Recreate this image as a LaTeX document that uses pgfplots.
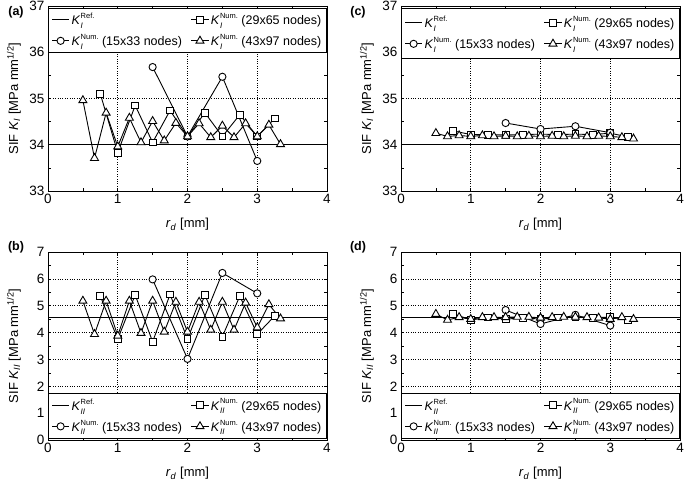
\documentclass[border=0pt]{standalone}
\usepackage{fontspec}
\setmainfont{Liberation Sans}
\usepackage{pgfplots}
\pgfplotsset{compat=1.18}

\newcommand{\Ksym}[2]{\textit{K}\kern0.3pt\makebox[0pt][l]{\raisebox{-0.55ex}{\fontsize{8}{8}\selectfont\textit{#1}}}\raisebox{0.95ex}{\fontsize{7.5}{8}\selectfont #2}}

\pgfplotsset{
 sifpanel/.style={
   scale only axis, width=279pt,
   xmin=0, xmax=4, xtick={0,1,2,3,4},
   minor x tick num=1, minor y tick num=1,
   tick align=inside, xtick pos=both, ytick pos=both,
   major tick length=3pt, minor tick length=3pt,
   grid=major, major grid style={dotted, black, line width=0.6pt},
   axis line style={line width=0.9pt},
   every tick/.style={black, line width=0.6pt},
   /pgf/number format/assume math mode=true,
   ticklabel style={font=\fontsize{13.5}{13.5}\selectfont},
   xlabel={\textit{r}\textsubscript{\textit{d}} [mm]},
   legend columns=2,
   legend cell align=left,
   legend style={font=\fontsize{12.5}{12.5}\selectfont, draw=black, line width=0.6pt, fill=white,
     /tikz/every even column/.append style={column sep=7pt},
     /tikz/row sep=4pt, inner xsep=3pt, inner ysep=3pt},
   legend image post style={line width=0.9pt},
 },
 topp/.style={height=185pt, ymin=33, ymax=37, ytick={33,34,35,36,37},
   every axis x label/.style={at={(axis description cs:0.5,-0.18)}, anchor=center, font=\fontsize{13}{13}\selectfont},
   every axis y label/.style={at={(axis description cs:-0.122,0.5)}, anchor=center, rotate=90, font=\fontsize{13}{13}\selectfont},
   legend style={at={(axis description cs:0.5,0.99)}, anchor=north}},
 botp/.style={height=188pt, ymin=0, ymax=7, ytick={0,1,2,3,4,5,6,7},
   every axis x label/.style={at={(axis description cs:0.5,-0.178)}, anchor=center, font=\fontsize{13}{13}\selectfont},
   every axis y label/.style={at={(axis description cs:-0.122,0.5)}, anchor=center, rotate=90, font=\fontsize{13}{13}\selectfont},
   legend style={at={(axis description cs:0.5,0.01)}, anchor=south}},
 refser/.style={black, line width=1pt, no marks},
 sq/.style={black, line width=0.9pt, mark=square*, mark size=3.4pt, mark options={solid, fill=white, line width=0.9pt}},
 ci/.style={black, line width=0.9pt, mark=*, mark size=3.6pt, mark options={solid, fill=white, line width=0.9pt}},
 tr/.style={black, line width=0.9pt, mark=triangle*, mark size=4.6pt, mark options={solid, fill=white, line width=0.9pt}},
}

\begin{document}
\begin{tikzpicture}
\useasboundingbox (0,0) rectangle (685pt,485pt);

% (a)
\begin{axis}[sifpanel, topp, at={(48pt,294pt)}, anchor=south west,
  ylabel={SIF \textit{K}\textsubscript{\textit{I}} [MPa mm\textsuperscript{1/2}]}]
\addplot[refser] coordinates {(0,34) (4,34)};
\addlegendentry{\Ksym{I}{Ref.}}
\addplot[sq] coordinates {(0.75,35.10) (1.00,33.83) (1.25,34.85) (1.50,34.05) (1.75,34.74) (2.00,34.18) (2.25,34.69) (2.50,34.18) (2.75,34.65) (3.00,34.18) (3.25,34.57)};
\addlegendentry{\Ksym{I}{Num.}~(29x65 nodes)}
\addplot[ci] coordinates {(1.5,35.68) (2.0,34.18) (2.5,35.47) (3.0,33.65)};
\addlegendentry{\Ksym{I}{Num.}~(15x33 nodes)}
\addplot[tr] coordinates {(0.5,34.96) (0.6667,33.71) (0.8333,34.69) (1.0,33.96) (1.1667,34.58) (1.3333,34.05) (1.5,34.51) (1.6667,34.09) (1.8333,34.47) (2.0,34.18) (2.1667,34.46) (2.3333,34.16) (2.5,34.41) (2.6667,34.16) (2.8333,34.46) (3.0,34.18) (3.1667,34.43) (3.3333,34.01)};
\addlegendentry{\Ksym{I}{Num.}~(43x97 nodes)}
\end{axis}
\node[font=\bfseries\fontsize{12.5}{12.5}\selectfont] at (16pt,473pt) {(a)};

% (c)
\begin{axis}[sifpanel, topp, at={(401pt,294pt)}, anchor=south west,
  ylabel={SIF \textit{K}\textsubscript{\textit{I}} [MPa mm\textsuperscript{1/2}]},
  legend style={inner ysep=6pt}]
\addplot[refser] coordinates {(0,34) (4,34)};
\addlegendentry{\Ksym{I}{Ref.}}
\addplot[sq] coordinates {(0.75,34.30) (1.00,34.22) (1.25,34.22) (1.50,34.21) (1.75,34.22) (2.00,34.23) (2.25,34.22) (2.50,34.23) (2.75,34.22) (3.00,34.25) (3.25,34.17)};
\addlegendentry{\Ksym{I}{Num.}~(29x65 nodes)}
\addplot[ci] coordinates {(1.5,34.47) (2.0,34.34) (2.5,34.40) (3.0,34.26)};
\addlegendentry{\Ksym{I}{Num.}~(15x33 nodes)}
\addplot[tr] coordinates {(0.5,34.25) (0.6667,34.18) (0.8333,34.20) (1.0,34.18) (1.1667,34.20) (1.3333,34.18) (1.5,34.19) (1.6667,34.18) (1.8333,34.19) (2.0,34.18) (2.1667,34.19) (2.3333,34.18) (2.5,34.19) (2.6667,34.18) (2.8333,34.19) (3.0,34.18) (3.1667,34.16) (3.3333,34.13)};
\addlegendentry{\Ksym{I}{Num.}~(43x97 nodes)}
\end{axis}
\node[font=\bfseries\fontsize{12.5}{12.5}\selectfont] at (358pt,473pt) {(c)};

% (b)
\begin{axis}[sifpanel, botp, at={(48pt,45pt)}, anchor=south west,
  ylabel={SIF \textit{K}\textsubscript{\textit{II}} [MPa mm\textsuperscript{1/2}]}]
\addplot[refser] coordinates {(0,4.55) (4,4.55)};
\addlegendentry{\Ksym{II}{Ref.}}
\addplot[sq] coordinates {(0.75,5.36) (1.00,3.76) (1.25,5.40) (1.50,3.66) (1.75,5.42) (2.00,3.76) (2.25,5.40) (2.50,3.85) (2.75,5.36) (3.00,3.94) (3.25,4.62)};
\addlegendentry{\Ksym{II}{Num.}~(29x65 nodes)}
\addplot[ci] coordinates {(1.5,5.98) (2.0,3.02) (2.5,6.22) (3.0,5.46)};
\addlegendentry{\Ksym{II}{Num.}~(15x33 nodes)}
\addplot[tr] coordinates {(0.5,5.18) (0.6667,3.94) (0.8333,5.18) (1.0,3.88) (1.1667,5.18) (1.3333,3.98) (1.5,5.18) (1.6667,4.03) (1.8333,5.14) (2.0,4.03) (2.1667,5.14) (2.3333,4.10) (2.5,5.14) (2.6667,4.10) (2.8333,5.11) (3.0,4.19) (3.1667,5.05) (3.3333,4.52)};
\addlegendentry{\Ksym{II}{Num.}~(43x97 nodes)}
\end{axis}
\node[font=\bfseries\fontsize{12.5}{12.5}\selectfont] at (16pt,238pt) {(b)};

% (d)
\begin{axis}[sifpanel, botp, at={(401pt,45pt)}, anchor=south west,
  ylabel={SIF \textit{K}\textsubscript{\textit{II}} [MPa mm\textsuperscript{1/2}]}]
\addplot[refser] coordinates {(0,4.55) (4,4.55)};
\addlegendentry{\Ksym{II}{Ref.}}
\addplot[sq] coordinates {(0.75,4.70) (1.00,4.47) (1.25,4.56) (1.50,4.50) (1.75,4.55) (2.00,4.50) (2.25,4.56) (2.50,4.58) (2.75,4.55) (3.00,4.58) (3.25,4.47)};
\addlegendentry{\Ksym{II}{Num.}~(29x65 nodes)}
\addplot[ci] coordinates {(1.5,4.84) (2.0,4.32) (2.5,4.66) (3.0,4.26)};
\addlegendentry{\Ksym{II}{Num.}~(15x33 nodes)}
\addplot[tr] coordinates {(0.5,4.69) (0.6667,4.47) (0.8333,4.57) (1.0,4.50) (1.1667,4.57) (1.3333,4.57) (1.5,4.57) (1.6667,4.58) (1.8333,4.58) (2.0,4.55) (2.1667,4.57) (2.3333,4.58) (2.5,4.58) (2.6667,4.57) (2.8333,4.55) (3.0,4.50) (3.1667,4.57) (3.3333,4.50)};
\addlegendentry{\Ksym{II}{Num.}~(43x97 nodes)}
\end{axis}
\node[font=\bfseries\fontsize{12.5}{12.5}\selectfont] at (358pt,238pt) {(d)};
\end{tikzpicture}
\end{document}
